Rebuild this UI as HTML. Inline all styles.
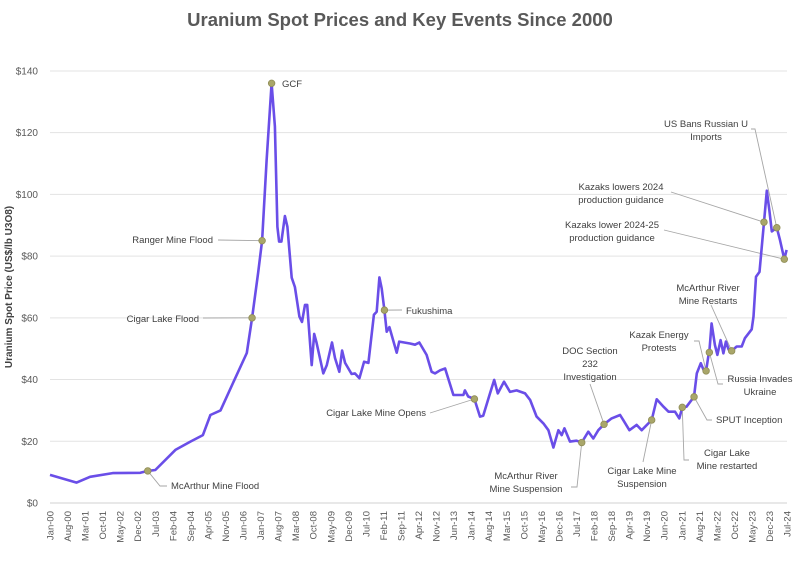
<!DOCTYPE html>
<html><head><meta charset="utf-8"><style>
html,body{margin:0;padding:0;background:#fff;}
svg{display:block;font-family:"Liberation Sans",sans-serif;}
</style></head><body>
<svg id="chart" width="798" height="569" viewBox="0 0 798 569" xmlns="http://www.w3.org/2000/svg">
<text x="400" y="26" text-anchor="middle" font-size="18.5" font-weight="bold" fill="#595959">Uranium Spot Prices and Key Events Since 2000</text>
<text transform="translate(12,287) rotate(-90)" text-anchor="middle" font-size="10" font-weight="bold" fill="#404040">Uranium Spot Price (US$/lb U3O8)</text>
<g id="grid"></g><g id="yticks"></g><g id="xticks"></g><g id="leaders"></g><g id="series"></g><g id="events"></g><g id="labels"></g>
</svg>
<script>
// month index since Jan-2000
const priceMonths=[0,10.6,16,25,36,39,42,50,56,61,64,68,73,78.5,80.6,83,84.6,86.4,88.4,89.7,90.7,91.4,92.3,93.7,94.7,96.4,97.7,99.5,100.5,101.7,102.6,104.4,105.4,106.3,109,110.4,112.5,113.7,115.4,116.5,117.7,120.3,121.6,123.4,125.3,127,129.2,130.3,131.4,132.3,133.4,134.3,135.4,138.3,139.3,143.6,145.6,147.3,150.2,152.2,153.6,155.6,157.6,160.9,164.9,165.5,166.8,169.3,171.5,172.8,175.5,177.2,178.6,181.1,183.5,186.1,189.5,191.5,194.1,196.8,198.8,200.8,202.8,204.1,205.2,207.4,210,212.1,214.7,216.7,218.7,221,224,227.4,228.7,231.1,234,236,240,242,244.7,246.7,249.3,251,252.2,253.9,256.9,258,259.6,260.7,261.7,262.6,263,263.9,265.2,266.2,267.5,268.6,269.6,270.7,271.9,273.9,275.9,277.2,279.9,280.6,281.6,283,284.8,285.9,286.9,287.9,289.9,291.2,292.9,293.8];
const priceValues=[9.1,6.6,8.5,9.7,9.8,10.4,10.7,17.2,19.9,22,28.5,30,38.9,48.6,60,74.5,85,111,136,122,89.5,84.7,84.7,93,89.5,73,70,60.4,58.7,64.2,64.2,44.7,54.8,52,42,44.7,52,47,42.5,49.4,45.4,41.8,42,40.4,45.8,45.4,61,62,73.1,69.5,62.5,55.5,57,48.7,52.3,51.7,51.3,52,48,42.5,42,43,43.6,35,35,36.5,34.5,33.7,28,28.3,35.5,39.9,35.5,39.3,36,36.5,35.5,33.4,28,25.8,23.6,18,23.6,22,24.2,19.9,20.2,19.6,23.1,20.9,23.6,25.5,27.4,28.5,26.8,23.6,25.3,23.6,26.9,33.6,31.2,29.6,29.6,27.4,31,31.2,34.4,42,45.3,43.1,42.8,47.5,48.8,58.2,51.2,48,52.8,48.5,52.3,49.7,49.3,50.7,50.7,53.4,56.3,60.4,73.3,74.9,91,101.2,95,88,89.2,85.2,79,82];
const eventNames=["McArthur Mine Flood","Cigar Lake Flood","Ranger Mine Flood","GCF","Fukushima","Cigar Lake Mine Opens","McArthur River Mine Suspension","DOC Section 232 Investigation","Cigar Lake Mine Suspension","Cigar Lake Mine restarted","SPUT Inception","Kazak Energy Protests","Russia Invades Ukraine","McArthur River Mine Restarts","Kazaks lowers 2024 production guidance","US Bans Russian U Imports","Kazaks lower 2024-25 production guidance"];
const eventMonths=[39,80.6,84.6,88.4,133.4,169.3,212.1,221,240,252.2,256.9,261.7,263,271.9,284.8,289.9,292.9];
const eventValues=[10.4,60,85,136,62.5,33.7,19.6,25.5,26.9,31,34.4,42.8,48.8,49.3,91,89.2,79];
const yTicks=[0,20,40,60,80,100,120,140];
const monthNames=["Jan","Feb","Mar","Apr","May","Jun","Jul","Aug","Sep","Oct","Nov","Dec"];

const NS="http://www.w3.org/2000/svg";
const X0=50,PXM=2.507,Y0=503,PXV=3.086;
function xs(m){return X0+m*PXM;}
function ys(v){return Y0-v*PXV;}
function mk(tag,attrs,parent,text){const e=document.createElementNS(NS,tag);for(const k in attrs)e.setAttribute(k,attrs[k]);if(text!=null)e.textContent=text;document.getElementById(parent).appendChild(e);return e;}

yTicks.forEach(v=>{
  const g=mk('line',{x1:50,x2:787,y1:ys(v),y2:ys(v),stroke:v===0?'#d0d0d0':'#e3e3e3','stroke-width':1},'grid');
  
  
  const t=mk('text',{x:38,y:ys(v)+3.5,'text-anchor':'end','font-size':10,fill:'#595959'},'yticks','$'+v);
  
  
});
for(let m=0;m<=294;m+=7){
  const lbl=monthNames[m%12]+'-'+String(m/12|0).padStart(2,'0');
  const x=xs(m);
  const t=mk('text',{transform:'translate('+(x+3.5)+',511) rotate(-90)','text-anchor':'end','font-size':9.5,fill:'#595959'},'xticks',lbl);
  
  
}
const pts=priceMonths.map((m,i)=>xs(m).toFixed(1)+','+ys(priceValues[i]).toFixed(1)).join(' ');
const line=mk('polyline',{points:pts,fill:'none',stroke:'#6a4ee8','stroke-width':2.6,'stroke-linejoin':'round'},'series');



const layout=[
 ['start',171,489,["McArthur Mine Flood"],[[160,486],[167,486]]],
 ['end',199,322,["Cigar Lake Flood"],[[203,318]]],
 ['end',213,243,["Ranger Mine Flood"],[[218,240]]],
 ['start',282,87,["GCF"],[]],
 ['start',406,314,["Fukushima"],[[402,310]]],
 ['end',426,416,["Cigar Lake Mine Opens"],[[430,413]]],
 ['middle',526,479,["McArthur River","Mine Suspension"],[[577,487],[571,487]]],
 ['middle',590,354,["DOC Section","232","Investigation"],[[590,384]]],
 ['middle',642,474,["Cigar Lake Mine","Suspension"],[[643,462]]],
 ['middle',727,456,["Cigar Lake","Mine restarted"],[[684,460],[689,460]]],
 ['start',716,423,["SPUT Inception"],[[707,420],[712,420]]],
 ['middle',659,338,["Kazak Energy","Protests"],[[699,341],[694,341]]],
 ['middle',760,382,["Russia Invades","Ukraine"],[[718,384],[723,384]]],
 ['middle',708,291,["McArthur River","Mine Restarts"],[[711,305]]],
 ['middle',621,190,["Kazaks lowers 2024","production guidance"],[[671,192]]],
 ['middle',706,127,["US Bans Russian U","Imports"],[[755,129],[751,129]]],
 ['middle',612,228,["Kazaks lower 2024-25","production guidance"],[[664,230]]]
];
eventNames.forEach((n,i)=>{
  const ex=xs(eventMonths[i]),ey=ys(eventValues[i]);
  const L=layout[i];
  if(L[4].length){
    const p=[[ex,ey]].concat(L[4]).map(q=>q[0]+','+q[1]).join(' ');
    const ld=mk('polyline',{points:p,fill:'none',stroke:'#a6a6a6','stroke-width':0.9},'leaders');
    
    
  }
  const c=mk('circle',{cx:ex,cy:ey,r:3.3,fill:'#a9a66a',stroke:'#8f8c55','stroke-width':0.8},'events');
  
  
  const t=mk('text',{x:L[1],y:L[2],'text-anchor':L[0],'font-size':9.5,fill:'#404040'},'labels');
  
  
  L[3].forEach((s,j)=>{const ts=document.createElementNS(NS,'tspan');ts.setAttribute('x',L[1]);ts.setAttribute('dy',j?13:0);ts.textContent=s;t.appendChild(ts);});
});
</script>
</body></html>
